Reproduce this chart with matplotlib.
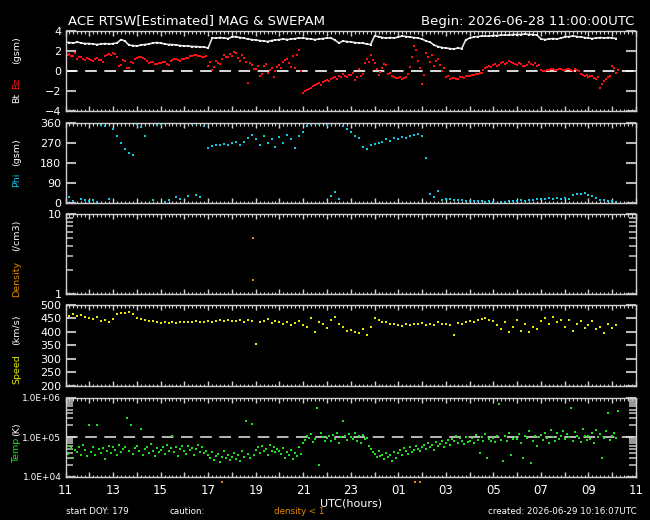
import numpy as np
import matplotlib
matplotlib.use("Agg")
import matplotlib.pyplot as plt
from matplotlib.ticker import MultipleLocator, LogLocator, NullFormatter, FuncFormatter, FixedLocator

# ── Data (hours since 2026-06-28 11:00 UTC) ──────────────────────────────────
# Bt (nT), every 10 min, one row per hour
bt_gsm = [
    2.9, 2.85, 2.8, 2.9, 2.8, 2.75,
    2.75, 2.7, 2.65, 2.7, 2.75, 2.7,
    2.75, 2.8, 3.15, 3.0, 2.6, 2.55,
    2.5, 2.6, 2.65, 2.7, 2.8, 2.85,
    2.8, 2.7, 2.65, 2.65, 2.6, 2.55,
    2.5, 2.5, 2.45, 2.45, 2.4, 2.4,
    2.3, 3.3, 3.3, 3.35, 3.3, 3.25,
    3.4, 3.45, 3.35, 3.3, 3.2, 3.15,
    3.1, 3.05, 3.0, 2.95, 3.05, 3.1,
    3.15, 3.2, 3.15, 3.2, 3.25, 3.3,
    3.3, 3.25, 3.2, 3.15, 3.2, 3.25,
    3.3, 3.3, 3.1, 2.8, 3.0, 2.95,
    2.9, 2.85, 2.8, 2.8, 2.7, 2.65,
    3.5, 3.45, 3.35, 3.3, 3.35, 3.3,
    3.4, 3.5, 3.45, 3.4, 3.35, 3.3,
    3.2, 3.0, 2.9, 2.6, 2.45, 2.35,
    2.3, 2.25, 2.2, 2.3, 2.25, 3.1,
    3.3, 3.4, 3.45, 3.5, 3.5, 3.5,
    3.55, 3.55, 3.6, 3.6, 3.6, 3.65,
    3.65, 3.65, 3.7, 3.65, 3.65, 3.6,
    3.2, 3.15, 3.2, 3.25, 3.2, 3.3,
    3.4, 3.45, 3.5, 3.45, 3.4, 3.35,
    3.3, 3.25, 3.3, 3.35, 3.3, 3.35,
    3.3, 3.25,
]

# Bz (nT), every 5 min
bz_gsm = [
    1.3, 1.6, 1.7, 1.5, 1.5, 1.8, 1.2, 1.4, 1.4, 1.2, 1.1, 1.3,
    1.2, 1.1, 1.0, 1.2, 1.3, 1.1, 1.1, 0.9, 1.5, 1.6, 1.7, 1.6,
    1.8, 1.7, 1.4, 0.5, 0.6, 1.1, 1.0, 0.3, 0.3, 0.9, 0.8, 1.2,
    1.3, 1.4, 1.4, 1.3, 1.2, 1.0, 0.8, 0.9, 0.9, 0.7, 0.7, 0.8,
    0.8, 0.9, 0.9, 0.7, 0.6, 1.0, 1.1, 1.2, 1.2, 1.1, 1.0, 1.2,
    1.2, 1.3, 1.3, 1.5, 1.5, 1.6, 1.6, 1.5, 1.5, 1.4, 1.4, 1.5,
    0.5, 0.9, 0.1, 0.4, 1.0, 0.8, 0.7, 1.2, 1.6, 1.4, 1.4, 1.7,
    1.5, 1.9, 1.8, 1.3, 1.0, 1.6, 1.3, 0.9, -1.2, 0.8, 0.6, 0.2,
    0.2, 0.5, -0.5, -0.3, 0.5, 0.7, -0.2, 0.1, 0.3, -0.6, 0.0, 0.4,
    0.6, 0.3, 0.9, 1.1, 1.2, 0.8, 0.4, 1.5, 0.3, 1.6, 2.1, 0.0,
    -2.2, -2.0, -1.9, -1.8, -1.7, -1.5, -1.4, -1.3, -1.2, -1.4, -1.1, -1.0,
    -0.9, -1.0, -0.8, -0.7, -0.6, -0.8, -0.5, -0.6, -0.3, -0.5, -0.6, -0.4,
    -0.4, -0.2, -0.9, -0.6, 0.2, -0.5, -0.3, 0.8, 1.2, 0.9, 1.6, 1.1,
    0.8, 0.2, -0.4, -0.1, 0.3, 0.7, 0.6, -0.3, -0.2, -0.5, -0.6, -0.7,
    -0.7, -0.6, -0.8, -0.7, -0.6, -0.3, 0.4, 1.4, 2.5, 2.1, 1.0, 0.3,
    -1.3, -0.4, 1.8, 1.4, 0.9, 1.6, 0.5, 1.0, 1.2, 0.6, 0.0, 0.3,
    -0.6, -0.5, -0.8, -0.7, -0.7, -0.8, -0.8, -0.6, -0.6, -0.7, -0.5, -0.5,
    -0.5, -0.4, -0.4, -0.3, -0.3, -0.2, -0.2, 0.1, 0.3, 0.4, 0.5, 0.4,
    0.6, 0.7, 0.5, 0.6, 0.8, 0.9, 0.7, 0.8, 1.0, 0.9, 0.8, 0.7,
    0.6, 0.8, 0.7, 0.5, 0.5, 0.6, 0.9, 0.7, 0.6, 0.8, 0.5, 0.6,
    0.1, 0.0, 0.0, 0.1, 0.1, 0.2, 0.2, 0.1, 0.1, 0.2, 0.2, 0.1,
    0.1, 0.2, 0.2, 0.1, 0.0, 0.2, 0.1, 0.0, -0.3, -0.4, -0.5, -0.4,
    -0.6, -0.5, -0.5, -0.7, -0.8, -0.6, -1.7, -1.3, -1.0, -0.8, -0.6, -0.5,
    0.5, 0.3, -0.2, 0.1,
]

# Phi (deg), every 10 min
phi_gsm = [
    15, 25, 10, 358, 20, 12,
    8, 15, 5, 350, 345, 20,
    330, 300, 270, 240, 225, 216,
    355, 340, 300, 358, 12, 352,
    355, 5, 15, 358, 25, 20,
    360, 30, 355, 35, 25, 345,
    246, 255, 260, 258, 265, 262,
    268, 272, 262, 275, 290, 306,
    285, 260, 300, 270, 285, 250,
    295, 270, 305, 285, 248, 300,
    320, 345, 356, 360, 355, 358,
    350, 30, 50, 20, 345, 330,
    320, 300, 290, 250, 240, 260,
    265, 270, 275, 285, 280, 290,
    288, 295, 290, 300, 305, 310,
    300, 200, 40, 25, 55, 15,
    18, 16, 14, 15, 12, 10,
    10, 8, 9, 7, 6, 8,
    5, 358, 6, 4, 8, 10,
    8, 12, 10, 15, 12, 18,
    20, 18, 22, 20, 21, 20,
    22, 20, 38, 42, 40, 45,
    36, 30, 22, 15, 12, 10,
    8, 5,
]

# Speed (km/s), every 10 min
speed_kms = [
    462, 460, 465, 458, 462, 455,
    452, 448, 456, 440, 445, 438,
    448, 468, 472, 470, 475, 466,
    452, 448, 445, 440, 442, 436,
    433, 438, 434, 436, 432, 438,
    436, 438, 435, 440, 437, 436,
    440, 438, 442, 444, 440, 445,
    442, 440, 446, 438, 444, 440,
    356, 436, 442, 448, 434, 440,
    438, 430, 436, 426, 432, 440,
    425, 420, 452, 400, 435, 428,
    415, 445, 455, 430, 420, 405,
    408, 400, 395, 410, 388, 420,
    450, 445, 435, 438, 430, 428,
    425, 422, 428, 425, 430, 428,
    432, 427, 430, 425, 435, 428,
    430, 425, 387, 433, 428, 438,
    440, 436, 445, 448, 452, 445,
    440, 425, 410, 435, 400, 420,
    445, 405, 430, 398, 420, 412,
    440, 450, 430, 455, 438, 445,
    420, 445, 405, 430, 440, 415,
    425, 440, 410, 420, 395, 430,
    415, 425,
]

# Temperature (10^3 K), every 5 min
temp_kK = [
    45, 38, 60, 52, 30, 48, 41, 55, 36, 62, 47, 33,
    200, 42, 58, 35, 205, 50, 40, 52, 28, 44, 61, 39,
    55, 47, 36, 64, 42, 50, 58, 300, 45, 200, 38, 53,
    60, 44, 160, 35, 49, 57, 40, 66, 46, 33, 52, 43,
    48, 58, 37, 62, 45, 52, 105, 41, 56, 34, 50, 59,
    44, 38, 61, 47, 53, 36, 49, 65, 42, 57, 39, 46,
    35, 30, 42, 27, 33, 38, 24, 31, 45, 29, 36, 26,
    32, 40, 28, 35, 25, 44, 31, 260, 38, 30, 220, 36,
    48, 55, 39, 60, 44, 51, 35, 62, 46, 57, 41, 49,
    45, 38, 52, 30, 42, 35, 47, 28, 40, 33, 55, 37,
    70, 85, 110, 95, 120, 75, 90, 550, 20, 130, 100, 80,
    95, 105, 78, 115, 88, 130, 72, 100, 260, 110, 85, 120,
    100, 92, 125, 80, 105, 70, 115, 88, 95, 60, 50, 42,
    38, 32, 45, 34, 36, 28, 40, 31, 35, 25, 42, 30,
    40, 48, 35, 52, 44, 38, 56, 42, 47, 60, 50, 45,
    55, 62, 50, 70, 58, 65, 48, 75, 60, 68, 80, 57,
    72, 85, 65, 90, 78, 110, 70, 95, 82, 68, 100, 75,
    80, 95, 70, 115, 85, 40, 100, 78, 120, 30, 90, 82,
    95, 75, 110, 700, 85, 25, 105, 80, 130, 35, 90, 100,
    88, 120, 70, 30, 105, 95, 140, 22, 80, 110, 60, 100,
    115, 85, 130, 95, 70, 150, 100, 80, 125, 90, 105, 140,
    90, 120, 100, 550, 80, 135, 110, 95, 75, 160, 105, 85,
    110, 90, 130, 70, 150, 100, 120, 30, 95, 140, 400, 85,
    110, 130, 95, 450,
]

density_hours = [7.9, 7.9]
density_cm3 = [5.0, 1.5]
caution_hours = [6.6, 14.7, 14.9]

hour_labels = ["11", "13", "15", "17", "19", "21", "23",
               "01", "03", "05", "07", "09", "11"]

# sample times in hours
t_bt = np.arange(len(bt_gsm)) / 6.0
t_bz = np.arange(len(bz_gsm)) / 12.0
t_phi = np.arange(len(phi_gsm)) / 6.0
t_speed = np.arange(len(speed_kms)) / 6.0
t_temp = np.arange(len(temp_kK)) / 12.0

FRAME = "#d0d0d0"
TICK = "#b8b8b8"

plt.rcParams["font.family"] = ["DejaVu Sans"]

fig = plt.figure(figsize=(6.5, 5.2), dpi=100, facecolor="black")

L, W = 0.1008, 0.8777
rects = [
    (0.7865, 0.1538),
    (0.6096, 0.1544),
    (0.4346, 0.1538),
    (0.2583, 0.1552),
    (0.0833, 0.1519),
]
axes = [fig.add_axes([L, b, W, h]) for b, h in rects]


def style(ax, bottom_labels=False):
    ax.set_facecolor("black")
    for sp in ax.spines.values():
        sp.set_color(FRAME)
        sp.set_linewidth(1.0)
    ax.set_xlim(0, 24)
    ax.xaxis.set_major_locator(MultipleLocator(1))
    ax.xaxis.set_minor_locator(MultipleLocator(1 / 6))
    ax.tick_params(axis="x", which="both", direction="in", top=True, bottom=True,
                   color=FRAME, labelcolor="white", labelsize=8.5,
                   labelbottom=bottom_labels, pad=5)
    ax.tick_params(axis="x", which="major", length=3.5, width=1)
    ax.tick_params(axis="x", which="minor", length=1.8, width=0.8)
    ax.tick_params(axis="y", which="both", direction="in", left=True, right=True,
                   color=TICK, labelcolor="white", labelsize=8, pad=3)
    ax.tick_params(axis="y", which="major", length=7, width=1.5)
    ax.tick_params(axis="y", which="minor", length=5, width=1.2)


def pts(ax, t, v, color, ms=1.8):
    ax.plot(t, v, ls="none", marker="s", ms=ms, mew=0, color=color)


# ── Panel 1: Bt / Bz ─────────────────────────────────────────────────────────
ax = axes[0]
style(ax)
ax.axhline(0, color="white", lw=1.2, dashes=(7, 4.5))
ax.plot(t_bt, bt_gsm, color="#e0e0e0", lw=1.2)
pts(ax, t_bt, bt_gsm, "#f0f0f0")
pts(ax, t_bz, bz_gsm, "#ff1010")
ax.set_ylim(-4, 4)
ax.set_yticks([-4, -2, 0, 2, 4])

# ── Panel 2: Phi ─────────────────────────────────────────────────────────────
ax = axes[1]
style(ax)
pts(ax, t_phi, phi_gsm, "#10c8e8", ms=2.0)
ax.set_ylim(0, 360)
ax.set_yticks([0, 90, 180, 270, 360])

# ── Panel 3: Density ─────────────────────────────────────────────────────────
ax = axes[2]
style(ax)
ax.set_yscale("log")
pts(ax, density_hours, density_cm3, "#e08a00", ms=1.6)
ax.set_ylim(1, 10)
ax.yaxis.set_major_locator(FixedLocator([1, 10]))
ax.yaxis.set_major_formatter(FuncFormatter(lambda v, p: f"{v:g}"))
ax.yaxis.set_minor_locator(LogLocator(subs=range(2, 10)))
ax.yaxis.set_minor_formatter(NullFormatter())
ax.tick_params(axis="y", which="both", direction="in", left=True, right=True)

# ── Panel 4: Speed ───────────────────────────────────────────────────────────
ax = axes[3]
style(ax)
pts(ax, t_speed, speed_kms, "#e8e800", ms=2.0)
ax.set_ylim(200, 500)
ax.set_yticks(np.arange(200, 501, 50))

# ── Panel 5: Temperature ─────────────────────────────────────────────────────
ax = axes[4]
style(ax, bottom_labels=True)
ax.set_yscale("log")
ax.axhline(1e5, color="#d8d8d8", lw=1.2, dashes=(7, 4.5))
pts(ax, t_temp, np.array(temp_kK) * 1000.0, "#20e020", ms=1.8)
ax.set_ylim(1e4, 1e6)
ax.yaxis.set_major_locator(FixedLocator([1e4, 1e5, 1e6]))
ax.yaxis.set_major_formatter(FuncFormatter(
    lambda v, p: {1e4: "1.0E+04", 1e5: "1.0E+05", 1e6: "1.0E+06"}.get(v, "")))
ax.yaxis.set_minor_locator(LogLocator(subs=range(2, 10)))
ax.yaxis.set_minor_formatter(NullFormatter())
ax.tick_params(axis="y", which="major", labelsize=6.5)
ax.xaxis.set_major_formatter(FuncFormatter(
    lambda v, p: hour_labels[int(round(v)) // 2] if int(round(v)) % 2 == 0 else ""))
ax.set_xlabel("UTC(hours)", color="white", fontsize=8, labelpad=1)
ax.plot(caution_hours, [0.75e4] * len(caution_hours), ls="none", marker="s",
        ms=1.5, mew=0, color="#e08a00", clip_on=False)

# ── Y labels (coloured pieces, rotated) ─────────────────────────────────────
def ylab(text, ypix, color, xpix=17):
    fig.text(xpix / 650, 1 - ypix / 520, text, rotation=90, color=color,
             fontsize=6.8, ha="center", va="center")

ylab("Bt", 98, "white")
ylab("Bz", 83, "#ff1010")
ylab("(gsm)", 50, "white")
ylab("Phi", 180, "#10c8e8")
ylab("(gsm)", 152, "white")
ylab("Density", 279, "#e08a00")
ylab("(/cm3)", 235, "white")
ylab("Speed", 369, "#e8e800")
ylab("(km/s)", 330, "white")
ylab("Temp", 450, "#20e020")
ylab("(K)", 429, "white")

# ── Title and footer ─────────────────────────────────────────────────────────
fig.text(68 / 650, 1 - 21 / 520, "ACE RTSW[Estimated] MAG & SWEPAM",
         color="white", fontsize=9.5, ha="left", va="center")
fig.text(634 / 650, 1 - 21 / 520, "Begin: 2026-06-28 11:00:00UTC",
         color="white", fontsize=9.5, ha="right", va="center")
fig.text(66 / 650, 1 - 512 / 520, "start DOY: 179", color="white",
         fontsize=6.3, ha="left", va="center")
fig.text(170 / 650, 1 - 512 / 520, "caution:", color="white",
         fontsize=6.3, ha="left", va="center")
fig.text(274 / 650, 1 - 512 / 520, "density < 1", color="#e08a00",
         fontsize=6.3, ha="left", va="center")
fig.text(637 / 650, 1 - 512 / 520, "created: 2026-06-29 10:16:07UTC",
         color="white", fontsize=6.3, ha="right", va="center")

fig.savefig("out.png", dpi=100, facecolor="black")
